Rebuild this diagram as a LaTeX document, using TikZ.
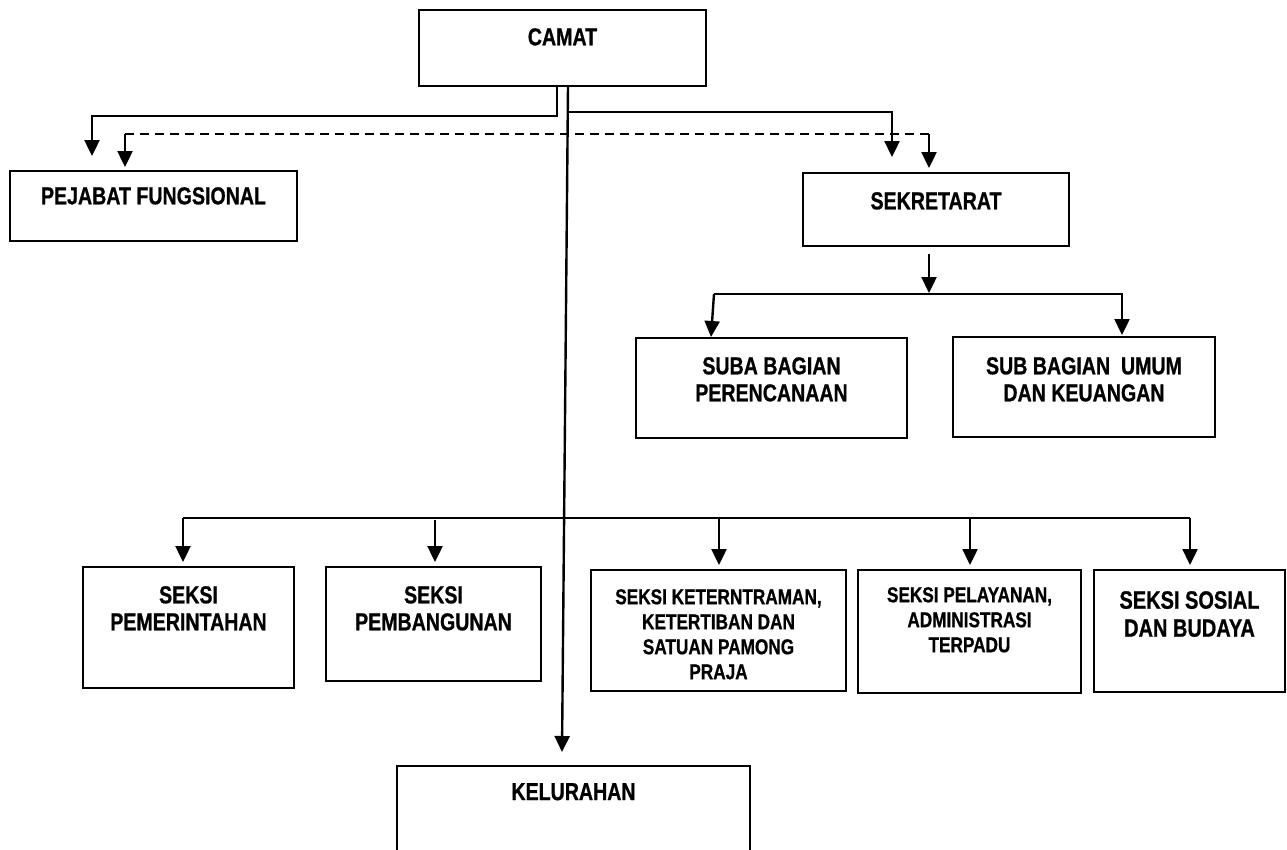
\documentclass[tikz,border=0pt]{standalone}
\usepackage{fontspec}
\newfontfamily\lblfont{Liberation Sans}[UprightFont={* Bold}, FakeStretch=0.8, FakeBold=0.8]
\usetikzlibrary{arrows.meta}
\begin{document}
\begin{tikzpicture}[x=1pt,y=-1pt,
  box/.style={draw, line width=2.8pt, anchor=north west, inner sep=0pt, outer sep=0pt},
  lbl/.style={anchor=north, align=center, inner sep=0pt, font=\lblfont\fontsize{24.5}{27}\selectfont},
  lblsm/.style={lbl, font=\lblfont\fontsize{21.5}{25}\selectfont},
  lblsos/.style={lbl, font=\lblfont\fontsize{25}{28}\selectfont},
  con/.style={line width=2.4pt},
  arr/.style={con, -{Triangle[width=15pt,length=16pt]}},
  dashcon/.style={con, dash pattern=on 9pt off 6pt},
]
\useasboundingbox (0,0) rectangle (1287,849);
\clip (0,0) rectangle (1287,849);

% boxes
\node[box, minimum width=287, minimum height=76]  (camat) at (419,10) {};
\node[box, minimum width=287, minimum height=70]  (pej)   at (10,171) {};
\node[box, minimum width=266, minimum height=73]  (sek)   at (803,173) {};
\node[box, minimum width=271, minimum height=100] (sba)   at (636,338) {};
\node[box, minimum width=262, minimum height=100] (sbu)   at (953,337) {};
\node[box, minimum width=211, minimum height=121] (s1)    at (83,567) {};
\node[box, minimum width=215, minimum height=114] (s2)    at (326,567) {};
\node[box, minimum width=255, minimum height=121] (s3)    at (591,570) {};
\node[box, minimum width=223, minimum height=123] (s4)    at (858,570) {};
\node[box, minimum width=191, minimum height=122] (s5)    at (1094,570) {};
\node[box, minimum width=353, minimum height=140] (kel)   at (397,766) {};

% labels
\node[lbl] (tcamat) at ([yshift=-18]camat.north) {CAMAT};
\node[lbl] (tpej)   at ([yshift=-16]pej.north) {PEJABAT FUNGSIONAL};
\node[lbl] (tsek)   at ([yshift=-19]sek.north) {SEKRETARAT};
\node[lbl] (tsba)   at ([yshift=-19]sba.north) {SUBA BAGIAN\\PERENCANAAN};
\node[lbl] (tsbu)   at ([yshift=-20]sbu.north) {SUB BAGIAN\ \ UMUM\\DAN KEUANGAN};
\node[lbl] (ts1)    at ([yshift=-19]s1.north) {SEKSI\\PEMERINTAHAN};
\node[lbl] (ts2)    at ([yshift=-19]s2.north) {SEKSI\\PEMBANGUNAN};
\node[lblsm] (ts3)  at ([yshift=-19]s3.north) {SEKSI KETERNTRAMAN,\\KETERTIBAN DAN\\SATUAN PAMONG\\PRAJA};
\node[lblsm] (ts4)  at ([yshift=-17]s4.north) {SEKSI PELAYANAN,\\ADMINISTRASI\\TERPADU};
\node[lblsos] (ts5) at ([yshift=-21]s5.north) {SEKSI SOSIAL\\DAN BUDAYA};
\node[lbl] (tkel)   at ([yshift=-17]kel.north) {KELURAHAN};

% CAMAT -> PEJABAT FUNGSIONAL
\draw[arr] ([xshift=-5.5]camat.south) -- ([xshift=-5.5,yshift=-30]camat.south) -| ([xshift=-61.5,yshift=15]pej.north);
% CAMAT -> KELURAHAN (long line)
\draw[arr] ([xshift=5.5]camat.south) -- ([xshift=-11.5,yshift=14]kel.north);
% CAMAT -> SEKRETARAT
\draw[arr] ([xshift=5.5,yshift=-26]camat.south) -| ([xshift=-44,yshift=16]sek.north);
% dashed coordination line
\draw[dashcon] ([xshift=-28.5,yshift=37]pej.north) -- ([xshift=-7,yshift=39]sek.north);
\draw[arr] ([xshift=-28.5,yshift=37]pej.north) -- ([xshift=-28.5,yshift=4]pej.north);
\draw[arr] ([xshift=-7,yshift=39]sek.north) -- ([xshift=-7,yshift=5]sek.north);

% SEKRETARAT -> sub bagian
\draw[arr] ([xshift=-7,yshift=-8]sek.south) -- ([xshift=-7,yshift=-47]sek.south);
\draw[arr] ([xshift=-57.5,yshift=44]sba.north) -- ([xshift=-60.5,yshift=1]sba.north);
\draw[arr] ([xshift=-57.5,yshift=44]sba.north) -| ([xshift=38,yshift=2]sbu.north);

% seksi bus
\draw[con] ([xshift=-5.5,yshift=49]s1.north) -- ([xshift=0.5,yshift=52]s5.north);
\draw[arr] ([xshift=-5.5,yshift=49]s1.north) -- ([xshift=-5.5,yshift=5]s1.north);
\draw[arr] ([xshift=1.5,yshift=47]s2.north) -- ([xshift=1.5,yshift=5]s2.north);
\draw[arr] ([xshift=0.5,yshift=52]s3.north) -- ([xshift=0.5,yshift=5]s3.north);
\draw[arr] ([xshift=0.5,yshift=52]s4.north) -- ([xshift=0.5,yshift=5]s4.north);
\draw[arr] ([xshift=0.5,yshift=52]s5.north) -- ([xshift=0.5,yshift=5]s5.north);
\end{tikzpicture}
\end{document}
